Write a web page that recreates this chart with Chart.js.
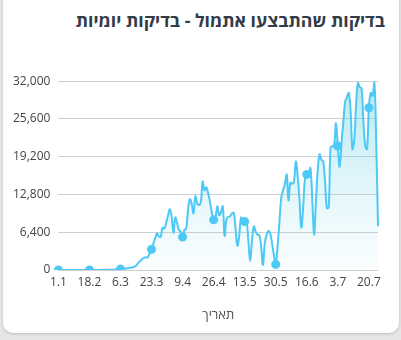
<!DOCTYPE html>
<html lang="he">
<head>
<meta charset="utf-8">
<script src="https://cdn.jsdelivr.net/npm/chart.js@4/dist/chart.umd.min.js"></script>
<style>
    html, body { margin: 0; padding: 0; background: #e6e6e6; }
    body { width: 401px; height: 340px; position: relative; overflow: hidden; font-family: "Open Sans", sans-serif; }
    .card {
        position: absolute; left: 3px; top: -12px; width: 396px; height: 345px;
        background: #fff; border-radius: 10px;
        box-shadow: 0 1px 3px rgba(0,0,0,0.18);
    }
    .card h2 {
        position: absolute; right: 14px; top: 20px; margin: 0;
        font-size: 17.7px; font-weight: 700; color: #333b47; direction: rtl;
    }
    .chart-box { position: absolute; left: 0; top: 78px; width: 392px; height: 261px; }
</style>
</head>
<body>
<div class="card">
    <h2>בדיקות שהתבצעו אתמול - בדיקות יומיות</h2>
    <div class="chart-box"><canvas id="testsChart"></canvas></div>
</div>
<script>
// Dates (day.month) - shown every 17th label on the axis
const dateLabels = ('1.1 2.2 3.2 4.2 5.2 6.2 7.2 8.2 9.2 10.2 11.2 12.2 13.2 14.2 15.2 16.2 17.2 ' +
    '18.2 19.2 20.2 21.2 22.2 23.2 24.2 25.2 26.2 27.2 28.2 29.2 1.3 2.3 3.3 4.3 5.3 ' +
    '6.3 7.3 8.3 9.3 10.3 11.3 12.3 13.3 14.3 15.3 16.3 17.3 18.3 19.3 20.3 21.3 22.3 ' +
    '23.3 24.3 25.3 26.3 27.3 28.3 29.3 30.3 31.3 1.4 2.4 3.4 4.4 5.4 6.4 7.4 8.4 ' +
    '9.4 10.4 11.4 12.4 13.4 14.4 15.4 16.4 17.4 18.4 19.4 20.4 21.4 22.4 23.4 24.4 25.4 ' +
    '26.4 27.4 28.4 29.4 30.4 1.5 2.5 3.5 4.5 5.5 6.5 7.5 8.5 9.5 10.5 11.5 12.5 ' +
    '13.5 14.5 15.5 16.5 17.5 18.5 19.5 20.5 21.5 22.5 23.5 24.5 25.5 26.5 27.5 28.5 29.5 ' +
    '30.5 31.5 1.6 2.6 3.6 4.6 5.6 6.6 7.6 8.6 9.6 10.6 11.6 12.6 13.6 14.6 15.6 ' +
    '16.6 17.6 18.6 19.6 20.6 21.6 22.6 23.6 24.6 25.6 26.6 27.6 28.6 29.6 30.6 1.7 2.7 ' +
    '3.7 4.7 5.7 6.7 7.7 8.7 9.7 10.7 11.7 12.7 13.7 14.7 15.7 16.7 17.7 18.7 19.7 ' +
    '20.7 21.7 22.7 23.7 24.7 25.7').split(' ');

// Daily tests performed
const dailyTests = [
    0, 0, 1, 0, 2, 3, 1, 4, 2, 5, 3, 6, 4, 8, 6, 9, 7,
    10, 12, 15, 11, 18, 20, 16, 25, 30, 28, 35, 42, 50, 60, 70, 85, 100,
    150, 180, 220, 250, 300, 350, 400, 500, 600, 900, 1300, 1600, 1900, 2100, 2100, 2200, 2800,
    3500, 4500, 5400, 6200, 5700, 5600, 7200, 7000, 8000, 9200, 10300, 9000, 6300, 8900, 7900, 6800, 6500,
    5600, 6800, 7000, 10300, 12000, 11200, 9600, 12500, 11300, 11000, 11600, 15000, 13500, 14000, 13000, 11500, 9800,
    8500, 8900, 10800, 9300, 9800, 10800, 5800, 8600, 9000, 9100, 9600, 9700, 7000, 4100, 5800, 8900, 8300,
    8200, 8300, 5000, 1500, 5000, 7400, 6500, 6000, 5900, 4000, 850, 4500, 6000, 6600, 6200, 4500, 2500,
    950, 4000, 8000, 12200, 13500, 14500, 16200, 11800, 14800, 14600, 15000, 18400, 16000, 12000, 7200, 10500, 15500,
    16200, 16300, 17300, 12000, 6000, 11500, 17000, 19600, 18700, 18400, 15000, 10500, 10600, 20700, 21000, 21200, 24900,
    21000, 17500, 21500, 25000, 28500, 29300, 30000, 27000, 20500, 22000, 28000, 31700, 31000, 30800, 25200, 21000, 20500,
    27500, 30000, 29500, 31800, 22000, 7400
];

const yTicks = [0, 6400, 12800, 19200, 25600, 32000];
const xTitle = 'תאריך';
const labelEvery = 17;

const lineColor = '#4ec8f4';

const canvas = document.getElementById('testsChart');
const ctx = canvas.getContext('2d');

function areaGradient(context) {
    const area = context.chart.chartArea;
    if (!area) return 'rgba(120,210,230,0.2)';
    const g = context.chart.ctx.createLinearGradient(0, area.top, 0, area.bottom);
    g.addColorStop(0, 'rgba(95,205,225,0.45)');
    g.addColorStop(1, 'rgba(150,225,240,0.05)');
    return g;
}

const testsChart = new Chart(ctx, {
    type: 'line',
    data: {
        labels: dateLabels,
        datasets: [{
            data: dailyTests,
            borderColor: lineColor,
            borderWidth: 2,
            backgroundColor: areaGradient,
            fill: 'origin',
            tension: 0.4,
            pointRadius: c => (c.dataIndex % labelEvery === 0 ? 4.5 : 0),
            pointBackgroundColor: lineColor,
            pointBorderWidth: 0
        }]
    },
    options: {
        responsive: true,
        maintainAspectRatio: false,
        animation: false,
        layout: { padding: { top: 14, right: 17, left: 2, bottom: 0 } },
        plugins: {
            legend: { display: false },
            tooltip: { enabled: false }
        },
        scales: {
            x: {
                grid: { display: false, drawTicks: false },
                border: { display: false },
                ticks: {
                    autoSkip: false,
                    maxRotation: 0,
                    padding: 5,
                    color: '#444',
                    font: { family: 'Open Sans', size: 12 },
                    callback: function(value, index) {
                        return index % labelEvery === 0 ? dateLabels[index] : '';
                    }
                },
                title: {
                    display: true,
                    text: xTitle,
                    color: '#555',
                    font: { family: 'Open Sans', size: 13 },
                    padding: { top: 13 }
                }
            },
            y: {
                min: 0,
                max: 32000,
                afterBuildTicks: axis => { axis.ticks = yTicks.map(v => ({ value: v })); },
                grid: { color: '#cfcfcf', drawTicks: false },
                border: { display: false },
                ticks: {
                    padding: 8,
                    color: '#444',
                    font: { family: 'Open Sans', size: 12 },
                    callback: v => v.toLocaleString('en-US')
                }
            }
        }
    }
});
</script>
</body>
</html>
